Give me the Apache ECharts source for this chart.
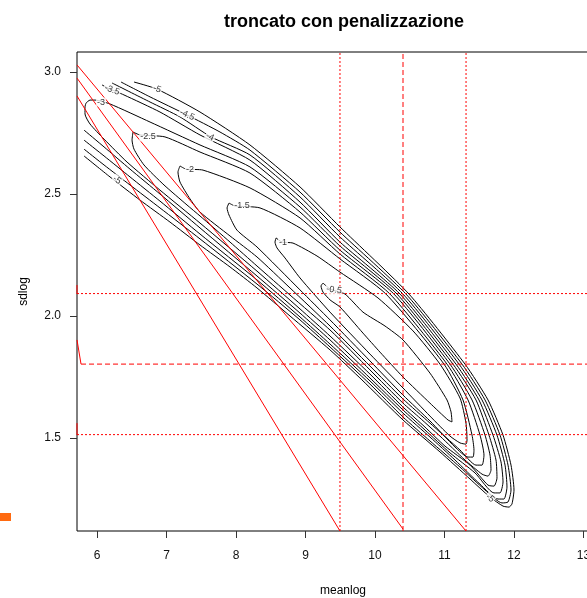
<!DOCTYPE html>
<html>
<head>
<meta charset="utf-8">
<title>troncato con penalizzazione</title>
<script src="https://cdn.jsdelivr.net/npm/echarts@6/dist/echarts.min.js"></script>
<style>html,body{margin:0;padding:0;background:#fff}</style>
</head>
<body>
<div id="main" style="width:587px;height:598px;"></div>
<script>
// assi
const xTicks = [6, 7, 8, 9, 10, 11, 12, 13];
const yTicks = [1.5, 2.0, 2.5, 3.0];
const xRange = [5.712, 13.367];
const yRange = [1.119, 3.082];

// curve di livello (meanlog, sdlog)
const c05 = [[9.252,2.135],[9.353,2.111],[9.568,2.090],[9.827,2.016],[10.144,1.959],[10.403,1.902],[10.791,1.766],[11.036,1.656],[11.094,1.607],[11.108,1.566],[11.050,1.574],[10.791,1.643],[10.403,1.750],[10.072,1.852],[9.827,1.930],[9.496,2.037],[9.353,2.066],[9.252,2.098],[9.223,2.123],[9.252,2.135]];
const c10 = [[8.576,2.320],[8.662,2.303],[8.820,2.299],[9.165,2.246],[9.496,2.180],[10.043,2.074],[10.547,1.939],[10.935,1.803],[11.223,1.664],[11.309,1.561],[11.324,1.492],[11.309,1.475],[11.223,1.480],[11.079,1.508],[10.791,1.590],[10.403,1.705],[9.928,1.844],[9.353,2.016],[8.921,2.156],[8.705,2.238],[8.590,2.279],[8.561,2.303],[8.576,2.320]];
const c15 = [[7.899,2.463],[7.986,2.451],[8.345,2.443],[8.921,2.361],[9.496,2.234],[10.158,2.090],[10.993,1.803],[11.266,1.656],[11.396,1.512],[11.424,1.451],[11.410,1.422],[11.338,1.422],[11.151,1.463],[10.791,1.570],[10.403,1.676],[9.928,1.816],[9.353,1.984],[8.921,2.107],[8.302,2.283],[8.014,2.352],[7.899,2.414],[7.871,2.443],[7.899,2.463]];
const c20 = [[7.194,2.615],[7.281,2.602],[7.525,2.598],[8.201,2.525],[8.921,2.402],[9.496,2.254],[10.216,2.090],[11.036,1.803],[11.338,1.656],[11.511,1.512],[11.568,1.430],[11.540,1.389],[11.453,1.389],[11.223,1.451],[10.791,1.561],[10.403,1.660],[9.928,1.795],[9.353,1.959],[8.777,2.115],[8.302,2.242],[7.914,2.328],[7.482,2.426],[7.338,2.480],[7.194,2.549],[7.165,2.590],[7.194,2.615]];
const c25 = [[6.518,2.754],[6.619,2.742],[6.978,2.734],[7.482,2.672],[8.201,2.586],[8.921,2.426],[9.496,2.270],[10.273,2.090],[11.079,1.803],[11.396,1.656],[11.583,1.512],[11.655,1.430],[11.669,1.369],[11.626,1.344],[11.540,1.352],[11.295,1.410],[10.935,1.508],[10.647,1.582],[10.403,1.643],[9.928,1.779],[9.367,1.939],[8.777,2.086],[8.302,2.205],[7.914,2.303],[7.482,2.410],[7.295,2.455],[6.964,2.537],[6.676,2.619],[6.532,2.684],[6.504,2.721],[6.518,2.754]];
const c30 = [[5.842,2.873],[5.899,2.885],[5.971,2.885],[6.187,2.869],[6.763,2.795],[7.482,2.701],[8.201,2.611],[8.921,2.447],[9.496,2.287],[10.317,2.090],[11.122,1.803],[11.453,1.656],[11.640,1.512],[11.741,1.410],[11.755,1.336],[11.712,1.303],[11.626,1.307],[11.367,1.389],[11.007,1.467],[10.719,1.545],[10.403,1.627],[9.928,1.762],[9.353,1.918],[8.921,2.029],[8.302,2.184],[7.482,2.381],[6.906,2.516],[6.432,2.631],[6.101,2.725],[5.899,2.787],[5.827,2.828],[5.827,2.857],[5.842,2.873]];
const c35 = [[6.072,2.947],[6.158,2.934],[6.388,2.906],[6.906,2.836],[7.482,2.742],[8.201,2.639],[8.921,2.467],[9.496,2.303],[10.360,2.090],[11.165,1.803],[11.496,1.656],[11.698,1.512],[11.813,1.402],[11.842,1.320],[11.799,1.275],[11.712,1.275],[11.439,1.357],[11.079,1.439],[10.719,1.533],[10.403,1.615],[9.928,1.746],[9.353,1.902],[8.921,2.012],[8.302,2.164],[7.482,2.361],[6.906,2.500],[6.475,2.602],[6.101,2.693],[5.813,2.762]];
const c40 = [[6.216,2.955],[6.763,2.877],[7.194,2.816],[7.640,2.734],[8.201,2.660],[8.921,2.488],[9.496,2.324],[10.403,2.090],[11.209,1.803],[11.540,1.656],[11.755,1.512],[11.871,1.389],[11.899,1.299],[11.856,1.250],[11.770,1.250],[11.511,1.311],[11.151,1.410],[10.791,1.504],[10.403,1.602],[9.928,1.734],[9.353,1.885],[8.921,1.996],[8.302,2.148],[7.482,2.336],[6.906,2.471],[6.475,2.570],[6.101,2.656],[5.813,2.721]];
const c45 = [[6.345,2.959],[6.763,2.898],[7.295,2.824],[7.770,2.754],[8.201,2.680],[8.921,2.508],[9.496,2.344],[10.446,2.090],[11.252,1.803],[11.583,1.656],[11.799,1.512],[11.914,1.389],[11.957,1.287],[11.914,1.238],[11.827,1.234],[11.583,1.287],[11.223,1.381],[10.791,1.488],[10.403,1.586],[9.928,1.721],[9.353,1.873],[8.921,1.984],[8.302,2.131],[7.482,2.316],[6.906,2.443],[6.475,2.537],[6.101,2.619],[5.813,2.684]];
const c50 = [[6.532,2.959],[6.863,2.930],[7.482,2.836],[8.201,2.701],[8.921,2.529],[9.496,2.365],[10.489,2.090],[11.295,1.803],[11.626,1.656],[11.842,1.512],[11.957,1.389],[12.000,1.287],[11.971,1.230],[11.928,1.217],[11.842,1.221],[11.655,1.258],[11.367,1.332],[10.935,1.443],[10.403,1.574],[9.813,1.738],[9.353,1.861],[8.777,2.000],[8.302,2.115],[7.914,2.201],[7.482,2.291],[7.050,2.385],[6.619,2.475],[6.187,2.570],[5.813,2.656]];
const contours = [c05, c10, c15, c20, c25, c30, c35, c40, c45, c50];

// etichette delle curve
const labelText = ['-0.5', '-1', '-1.5', '-2', '-2.5', '-3', '-3.5', '-5', '-4.5', '-4', '-5', '-5'];
const labelX = [9.410, 8.676, 8.086, 7.338, 6.734, 6.058, 6.216, 6.863, 7.295, 7.626, 6.288, 11.655];
const labelY = [2.107, 2.303, 2.451, 2.602, 2.734, 2.877, 2.926, 2.930, 2.824, 2.734, 2.557, 1.254];
const labelAngle = [-8, 0, 0, 0, 0, 0, -20, -20, -25, -25, -35, -40];

// stime e intervalli (rosso)
const meanRef = [9.496, 10.403, 11.31];
const sdRef = [2.092, 1.803, 1.514];
const refDash = [[2, 2], [5, 3], [2, 2]];

// rette rosse
const diagA = [[5.712, 3.029], [11.309, 1.119]];
const diagB = [[5.712, 2.975], [10.403, 1.127]];
const diagC = [[5.712, 2.902], [9.496, 1.119]];
const edgeBits = [
    [[5.712, 2.127], [5.712, 2.090]],
    [[5.712, 1.902], [5.770, 1.803]],
    [[5.712, 1.561], [5.712, 1.512]]
];

let myChart = echarts.init(document.getElementById('main'));

const font = 'Liberation Sans, Arial, Helvetica, sans-serif';
const red = '#ff0000';
let series = [];

function addLine(data, color, z, dash) {
    series.push({
        type: 'line',
        data: data,
        showSymbol: false,
        symbol: 'none',
        silent: true,
        color: color,
        lineStyle: { color: color, width: 1, type: dash || 'solid' },
        z: z
    });
}

contours.forEach(function (c) {
    addLine(c, '#000', 2);
    series[series.length - 1].smooth = 0.2;
});

// linee verticali e orizzontali su tutta l'area del grafico
meanRef.forEach(function (v, i) {
    addLine([[v, yRange[0]], [v, yRange[1]]], red, 3, refDash[i]);
});
sdRef.forEach(function (v, i) {
    addLine([[i === 1 ? 5.770 : xRange[0], v], [xRange[1], v]], red, 3, refDash[i]);
});

[diagA, diagB, diagC].concat(edgeBits).forEach(function (d) {
    addLine(d, red, 3);
});

// testo delle etichette
series.push({
    type: 'scatter',
    symbolSize: 1,
    silent: true,
    itemStyle: { color: 'rgba(0,0,0,0)' },
    data: labelText.map(function (t, i) {
        return {
            value: [labelX[i], labelY[i]],
            label: { formatter: t, rotate: labelAngle[i] }
        };
    }),
    label: {
        show: true,
        position: 'inside',
        fontSize: 9,
        fontFamily: font,
        color: '#000',
        backgroundColor: '#fff',
        padding: [0, 1]
    },
    z: 4
});

let option = {
    animation: false,
    backgroundColor: '#fff',
    grid: {
        left: 77, top: 52, right: -22, bottom: 67,
        show: true, borderColor: '#000', borderWidth: 1,
        containLabel: false, outerBoundsMode: 'none'
    },
    xAxis: {
        type: 'value',
        min: xRange[0], max: xRange[1],
        name: 'meanlog',
        nameLocation: 'middle',
        nameGap: 54,
        nameTextStyle: { fontSize: 12, fontFamily: font, color: '#000' },
        axisLine: { show: false },
        splitLine: { show: false },
        axisTick: { show: true, customValues: xTicks, length: 7, lineStyle: { color: '#333' } },
        axisLabel: {
            customValues: xTicks, margin: 19, fontSize: 12, fontFamily: font, color: '#111',
            formatter: function (v) { return String(Math.round(v)); }
        }
    },
    yAxis: {
        type: 'value',
        min: yRange[0], max: yRange[1],
        name: 'sdlog',
        nameLocation: 'middle',
        nameGap: 47,
        nameTextStyle: { fontSize: 12, fontFamily: font, color: '#000' },
        axisLine: { show: false },
        splitLine: { show: false },
        axisTick: { show: true, customValues: yTicks, length: 7, lineStyle: { color: '#333' } },
        axisLabel: {
            customValues: yTicks, margin: 16, fontSize: 12, fontFamily: font, color: '#111',
            formatter: function (v) { return v.toFixed(1); }
        }
    },
    graphic: [
        {
            type: 'text', x: 344, y: 13,
            style: { text: 'troncato con penalizzazione', font: 'bold 18px ' + font, fill: '#000', textAlign: 'center' }
        },
        {
            type: 'rect', shape: { x: 0, y: 513, width: 11, height: 8 },
            style: { fill: '#ff6a10' }
        }
    ],
    series: series
};

myChart.setOption(option);
</script>
</body>
</html>
